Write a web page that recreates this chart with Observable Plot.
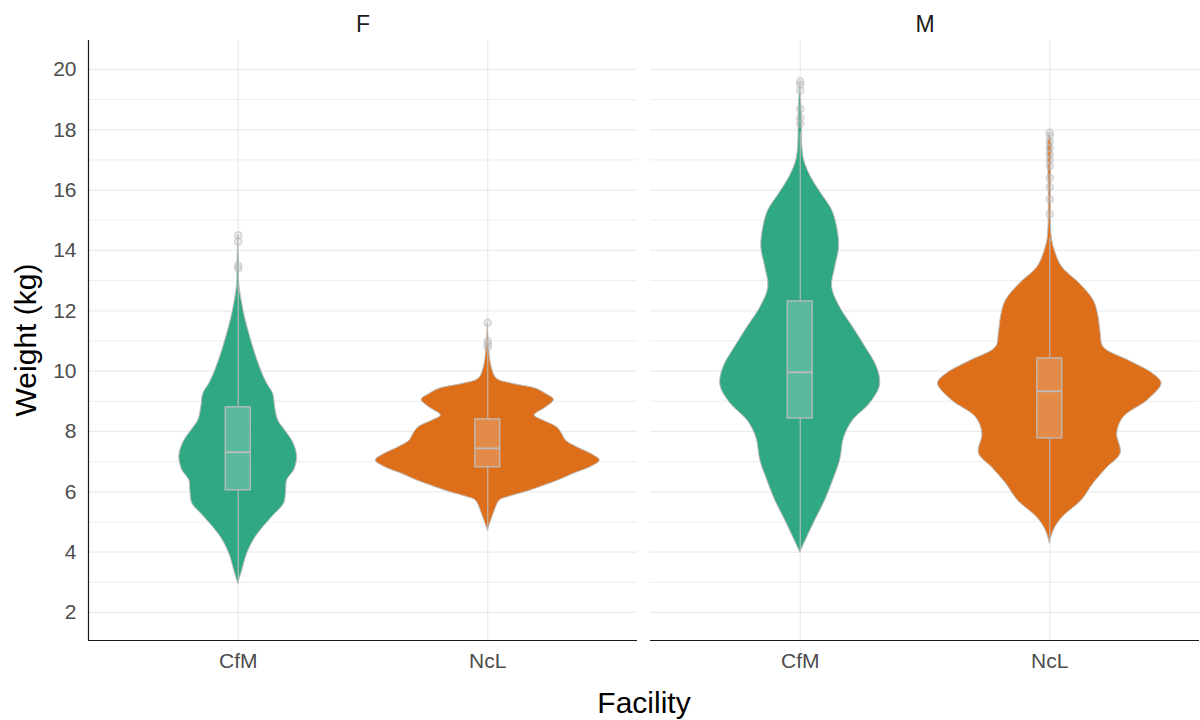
<!DOCTYPE html>
<html>
<head>
<meta charset="utf-8">
<script src="https://cdn.jsdelivr.net/npm/d3@7"></script>
<script src="https://cdn.jsdelivr.net/npm/@observablehq/plot@0.6"></script>
<style>
  body { margin: 0; background: #fff; }
  #wrap { position: relative; width: 1200px; height: 720px; font-family: "Liberation Sans", Arial, sans-serif; }
  #xtitle { position: absolute; left: 88px; width: 1112px; top: 688px; line-height: 30px; font-size: 30px; text-align: center; color: #000; }
  #ytitle { position: absolute; left: -274px; width: 600px; top: 325px; line-height: 30px; font-size: 30px; text-align: center; color: #000; transform: rotate(-90deg); transform-origin: center; }
</style>
</head>
<body>
<div id="wrap"></div>
<script>
// ---- categories ----
const sexes = ["F", "M"];
const facilities = ["CfM", "NcL"];
const facilityColors = ["#1B9E77", "#D95F02"];
const yMajorTicks = [2, 4, 6, 8, 10, 12, 14, 16, 18, 20];
const yMinorTicks = [3, 5, 7, 9, 11, 13, 15, 17, 19];

// ---- violin outlines: weight (kg) and half-width of the density (in facility units) ----
const violinF_CfM_weight = [2.95, 3.39, 3.95, 4.50, 5.05, 5.27, 5.61, 6.05, 6.38, 6.71, 7.10, 7.37, 7.70, 8.03, 8.37, 8.81, 9.25, 9.58, 10.02, 10.58, 11.13, 11.68, 12.23, 12.90, 13.50, 14.50];
const violinF_CfM_half   = [0, 0.016, 0.036, 0.070, 0.124, 0.148, 0.184, 0.192, 0.196, 0.224, 0.236, 0.232, 0.216, 0.188, 0.160, 0.148, 0.140, 0.116, 0.092, 0.068, 0.048, 0.030, 0.016, 0.004, 0.003, 0];

const violinF_NcL_weight = [4.72, 5.28, 5.71, 5.82, 5.99, 6.16, 6.38, 6.60, 6.82, 7.04, 7.26, 7.48, 7.70, 7.93, 8.14, 8.37, 8.53, 8.81, 9.05, 9.25, 9.42, 9.58, 9.75, 10.12, 10.69, 11.60];
const violinF_NcL_half   = [0, 0.024, 0.048, 0.080, 0.152, 0.212, 0.285, 0.345, 0.413, 0.449, 0.413, 0.357, 0.313, 0.297, 0.277, 0.220, 0.188, 0.236, 0.265, 0.232, 0.192, 0.100, 0.036, 0.016, 0.006, 0];

const violinM_CfM_weight = [3.99, 4.49, 5.05, 5.71, 6.38, 7.04, 7.80, 8.37, 8.93, 9.53, 10.12, 10.79, 11.45, 12.11, 12.77, 13.44, 14.10, 14.76, 15.33, 15.89, 16.42, 16.98, 17.50, 18.50, 19.60];
const violinM_CfM_half   = [0, 0.028, 0.060, 0.100, 0.132, 0.160, 0.176, 0.212, 0.280, 0.320, 0.308, 0.262, 0.212, 0.160, 0.128, 0.140, 0.156, 0.148, 0.128, 0.084, 0.044, 0.016, 0.008, 0.006, 0];

const violinM_NcL_weight = [4.29, 4.72, 5.16, 5.71, 6.28, 6.81, 7.27, 7.93, 8.47, 9.03, 9.59, 9.92, 10.35, 10.79, 11.25, 11.78, 12.34, 12.90, 13.44, 14.00, 14.43, 15.50, 16.90, 17.50, 17.90];
const violinM_NcL_half   = [0, 0.016, 0.052, 0.128, 0.176, 0.232, 0.284, 0.270, 0.296, 0.392, 0.448, 0.412, 0.316, 0.216, 0.204, 0.196, 0.176, 0.120, 0.050, 0.020, 0.008, 0.004, 0.006, 0.008, 0];

// ---- box plot statistics (per Sex x Facility) ----
const boxSex      = ["F", "F", "M", "M"];
const boxFacility = ["CfM", "NcL", "CfM", "NcL"];
const boxLower    = [2.95, 4.72, 3.99, 4.29];
const boxQ1       = [6.05, 6.81, 8.43, 7.77];
const boxMedian   = [7.31, 7.44, 9.96, 9.33];
const boxQ3       = [8.80, 8.40, 12.31, 10.42];
const boxUpper    = [12.90, 10.69, 17.90, 14.43];

// ---- outliers ----
const outlierSex      = ["F","F","F","F", "F","F","F","F", "M","M","M","M","M","M", "M","M","M","M","M","M","M","M","M","M","M"];
const outlierFacility = ["CfM","CfM","CfM","CfM", "NcL","NcL","NcL","NcL", "CfM","CfM","CfM","CfM","CfM","CfM", "NcL","NcL","NcL","NcL","NcL","NcL","NcL","NcL","NcL","NcL","NcL"];
const outlierWeight   = [13.4, 13.5, 14.3, 14.5, 10.8, 10.9, 11.0, 11.6, 18.2, 18.4, 18.7, 19.3, 19.5, 19.6, 15.2, 15.7, 16.1, 16.4, 16.8, 17.0, 17.2, 17.4, 17.6, 17.8, 17.9];

// ---- build tables ----
const posOf = f => facilities.indexOf(f) + 1;
const violinSeries = [
  {sex: "F", facility: "CfM", weight: violinF_CfM_weight, half: violinF_CfM_half},
  {sex: "F", facility: "NcL", weight: violinF_NcL_weight, half: violinF_NcL_half},
  {sex: "M", facility: "CfM", weight: violinM_CfM_weight, half: violinM_CfM_half},
  {sex: "M", facility: "NcL", weight: violinM_NcL_weight, half: violinM_NcL_half}
];
const violinRows = violinSeries.flatMap(s => s.weight.map((w, i) => ({
  Sex: s.sex, Facility: s.facility, pos: posOf(s.facility), Weight: w, Half: s.half[i]
})));
const boxRows = boxSex.map((s, i) => ({
  Sex: s, Facility: boxFacility[i], pos: posOf(boxFacility[i]),
  lo: boxLower[i], q1: boxQ1[i], med: boxMedian[i], q3: boxQ3[i], hi: boxUpper[i]
}));
const outlierRows = outlierWeight.map((w, i) => ({
  Sex: outlierSex[i], Facility: outlierFacility[i], pos: posOf(outlierFacility[i]), Weight: w
}));

const xDomain = [0.4, 2.6];
const yDomain = [1.07, 20.96];
const boxHalf = 0.05;
const boxStroke = "#bdbdbd";

const chart = Plot.plot({
  width: 1200,
  height: 720,
  marginLeft: 88,
  marginRight: 0,
  marginTop: 40,
  marginBottom: 80,
  style: {fontFamily: "'Liberation Sans', Arial, sans-serif", fontSize: "21px", background: "white", overflow: "visible"},
  fx: {domain: sexes, paddingInner: 0.0231, paddingOuter: 0, axis: null, label: null},
  x: {domain: xDomain, axis: null, label: null},
  y: {domain: yDomain, axis: null, label: null},
  color: {domain: facilities, range: facilityColors},
  marks: [
    Plot.gridY(yMinorTicks, {stroke: "#ebebeb", strokeOpacity: 1, strokeWidth: 0.9}),
    Plot.gridY(yMajorTicks, {stroke: "#ebebeb", strokeOpacity: 1, strokeWidth: 1.2}),
    Plot.gridX([1, 2], {stroke: "#ebebeb", strokeOpacity: 1, strokeWidth: 1.2}),
    Plot.areaX(violinRows, {
      fx: "Sex", y: "Weight",
      x1: d => d.pos - d.Half, x2: d => d.pos + d.Half,
      z: d => d.Sex + d.Facility,
      fill: "Facility", fillOpacity: 0.9,
      stroke: "#bdbdbd", strokeWidth: 1,
      curve: "catmull-rom"
    }),
    Plot.ruleX(boxRows, {fx: "Sex", x: "pos", y1: "lo", y2: "q1", stroke: boxStroke, strokeWidth: 1.1}),
    Plot.ruleX(boxRows, {fx: "Sex", x: "pos", y1: "q3", y2: "hi", stroke: boxStroke, strokeWidth: 1.1}),
    Plot.rect(boxRows, {
      fx: "Sex", x1: d => d.pos - boxHalf, x2: d => d.pos + boxHalf, y1: "q1", y2: "q3",
      fill: "white", fillOpacity: 0.2, stroke: boxStroke, strokeWidth: 1.3
    }),
    Plot.ruleY(boxRows, {fx: "Sex", y: "med", x1: d => d.pos - boxHalf, x2: d => d.pos + boxHalf, stroke: boxStroke, strokeWidth: 1.8}),
    Plot.dot(outlierRows, {fx: "Sex", x: "pos", y: "Weight", r: 3.5, fill: "#c8c8c8", fillOpacity: 0.3, stroke: "#b5b5b5", strokeOpacity: 0.5}),
    Plot.ruleY([yDomain[0]], {stroke: "#1a1a1a", strokeWidth: 1.2}),
    Plot.ruleX([xDomain[0]], {fx: [sexes[0]], stroke: "#1a1a1a", strokeWidth: 1.2}),
    Plot.axisY(yMajorTicks, {tickSize: 0, tickPadding: 12, fontSize: 21, fill: "#4d4d4d", label: null}),
    Plot.axisX([1, 2], {tickSize: 0, tickPadding: 13, fontSize: 21, fill: "#4d4d4d", label: null, tickFormat: d => facilities[d - 1]}),
    Plot.axisFx({anchor: "top", tickSize: 0, tickPadding: 9, fontSize: 23, fill: "#1a1a1a", label: null})
  ]
});

const wrap = document.getElementById("wrap");
wrap.appendChild(chart);
const xt = document.createElement("div");
xt.id = "xtitle"; xt.textContent = "Facility";
wrap.appendChild(xt);
const yt = document.createElement("div");
yt.id = "ytitle"; yt.textContent = "Weight (kg)";
wrap.appendChild(yt);
</script>
</body>
</html>
